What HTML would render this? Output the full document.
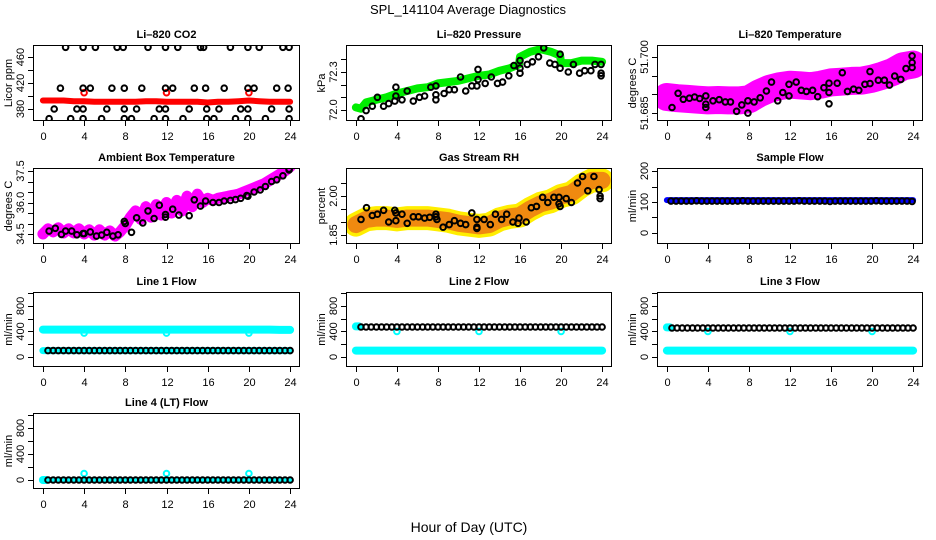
<!DOCTYPE html>
<html><head><meta charset="utf-8"><style>
html,body{margin:0;padding:0;background:#fff}
svg{display:block}
text{font-family:"Liberation Sans",sans-serif;fill:#000}
</style></head><body>
<svg id="c" width="936" height="540" viewBox="0 0 936 540">
<text x="468" y="14" text-anchor="middle" font-size="13">SPL_141104  Average Diagnostics</text>
<text x="469" y="532" text-anchor="middle" font-size="14">Hour of Day (UTC)</text>
</svg>
<script>
// ---------- data ----------
const xTicks = [0,4,8,12,16,20,24];

const co2BlackHours = [2.2,3.9,5.1,7.2,7.8,10.2,11.9,13.1,15.3,15.6,18.2,19.9,21.0,23.3,23.9,
  1.7,3.9,4.6,6.7,7.9,9.6,11.9,12.6,14.7,15.8,17.6,19.9,20.5,22.7,23.8,
  1.1,3.3,3.9,6.2,7.9,9.1,11.3,11.9,14.2,15.9,17.1,19.2,19.9,22.2,23.9,
  0.6,2.7,3.9,5.7,7.9,8.6,10.8,11.9,13.6,15.9,16.6,18.7,19.9,21.6,23.9];
const co2BlackValues = [475,475,475,475,475,475,475,475,475,475,475,475,475,475,475,
  412,412,412,412,412,412,412,412,412,412,412,412,412,412,412,
  380,380,380,380,380,380,380,380,380,380,380,380,380,380,380,
  365,365,365,365,365,365,365,365,365,365,365,365,365,365,365];
const co2RedHours = [0,1,2,3,4,5,6,7,8,9,10,11,12,13,14,15,16,17,18,19,20,21,22,23,24];
const co2RedValues = [393,393,393,392,392,391,391,391,391,391,392,392,391,391,391,391,390,391,391,392,393,392,391,391,391];
const co2RedSpikeHours = [4,12,20];
const co2RedSpikeValues = [405,405,405];

const presGreenHours = [0,0.5,1,2,3,4,5,6,7,8,9,10,11,12,13,14,15,15.9,16,17,18,19,19.9,20,21,22,23,24];
const presGreenValues = [72.02,72.01,72.06,72.08,72.10,72.13,72.15,72.17,72.18,72.21,72.22,72.23,72.25,72.27,72.28,72.31,72.33,72.36,72.42,72.46,72.48,72.46,72.43,72.37,72.37,72.39,72.39,72.38];
const presBlackHours = [0.5,1.0,1.6,2.1,2.7,3.2,3.8,3.9,3.9,4.5,5.0,5.6,6.2,6.7,7.3,7.8,7.8,7.8,8.6,9.1,9.6,10.2,10.7,11.3,11.8,11.9,11.9,12.6,13.2,13.8,14.3,14.9,15.4,16.0,16.0,16.0,16.7,17.2,17.8,18.3,18.9,19.4,19.9,19.9,20.7,21.2,21.8,22.3,22.9,23.3,23.9,23.9,23.9];
const presBlackValues = [71.93,71.995,72.03,72.10,72.03,72.05,72.07,72.18,72.11,72.08,72.15,72.07,72.10,72.11,72.18,72.12,72.08,72.19,72.13,72.16,72.16,72.26,72.15,72.19,72.19,72.24,72.32,72.21,72.26,72.21,72.22,72.27,72.35,72.39,72.33,72.29,72.36,72.38,72.42,72.49,72.37,72.36,72.44,72.33,72.30,72.36,72.29,72.31,72.31,72.36,72.36,72.29,72.27];

const ltMagHours = [0,1,2,3,4,5,6,7,8,9,10,11,12,13,14,15,16,17,18,19,20,21,22,23,24];
const ltMagValues = [51.6893,51.6890,51.6888,51.6886,51.6884,51.6885,51.6884,51.6884,51.6887,51.6903,51.6915,51.6922,51.6926,51.6924,51.6922,51.6926,51.6932,51.6934,51.6936,51.6937,51.6942,51.6950,51.6960,51.6975,51.6980];
const ltBlackHours = [0.5,1.1,1.6,2.2,2.7,3.2,3.8,3.8,3.8,4.5,5.1,5.7,6.2,6.8,7.3,7.9,7.9,8.5,9.1,9.7,10.2,10.8,11.3,11.9,11.9,12.6,13.1,13.6,14.2,14.7,15.3,15.8,15.8,15.8,16.6,17.1,17.6,18.2,18.7,19.3,19.8,19.8,20.6,21.2,21.7,22.2,22.8,23.3,23.9,23.9,23.9];
const ltBlackValues = [51.6865,51.6903,51.6887,51.689,51.6893,51.6889,51.6896,51.6874,51.6865,51.6883,51.6886,51.688,51.688,51.6855,51.6872,51.6883,51.685,51.688,51.6891,51.6909,51.6933,51.6883,51.6905,51.6927,51.6896,51.6933,51.6911,51.6908,51.6911,51.6894,51.6918,51.693,51.6905,51.6875,51.693,51.6958,51.6908,51.6914,51.6911,51.6927,51.6929,51.6961,51.6938,51.6938,51.6925,51.6949,51.694,51.6969,51.7003,51.6985,51.6972];

const ambMagValues = [34.5,34.75,34.6,34.8,34.55,34.75,34.55,34.75,34.5,34.7,34.45,34.7,34.45,34.65,34.4,34.6,34.9,35.3,35.6,35.2,35.8,35.3,35.9,35.4,36.0,35.5,36.1,35.6,36.3,35.8,36.4,36.0,36.2,36.1,36.2,36.25,36.3,36.35,36.4,36.5,36.6,36.7,36.8,36.9,37.05,37.2,37.35,37.5,37.7];
const ambBlackHours = [0.6,1.2,1.8,2.2,2.8,3.3,3.9,4.0,4.6,5.2,5.7,6.2,6.8,7.3,7.9,8.0,8.6,9.1,9.7,10.2,10.8,11.3,11.9,11.9,12.6,13.2,14.2,14.7,15.3,15.8,16.5,17.1,17.6,18.2,18.7,19.2,19.8,19.9,20.5,21.1,21.6,22.2,22.7,23.3,23.9,23.9];
const ambBlackValues = [34.64,34.77,34.48,34.64,34.64,34.46,34.52,34.52,34.6,34.4,34.45,34.58,34.4,34.46,35.1,35.0,34.58,35.27,35.03,35.6,35.24,35.87,35.43,35.3,35.68,35.4,35.37,36.13,35.83,36.07,36.0,36.0,36.07,36.1,36.14,36.2,36.33,36.3,36.5,36.6,36.76,37.0,37.08,37.27,37.6,37.55];

const rhCloudHours = [0,1,2,3,4,5,6,7,8,9,10,11,12,13,14,15,16,17,18,19,20,21,22,23,24];
const rhCloudValues = [1.89,1.91,1.915,1.915,1.91,1.915,1.915,1.915,1.91,1.905,1.895,1.89,1.885,1.89,1.91,1.92,1.925,1.95,1.97,1.98,2.0,2.01,2.04,2.06,2.06];
const rhBlackHours = [0.5,1.04,1.6,2.1,2.7,3.2,3.8,3.9,3.9,4.5,5.0,5.6,6.1,6.7,7.2,7.8,7.8,7.9,8.5,9.1,9.6,10.2,10.7,11.3,11.8,11.8,11.8,12.5,13.1,13.6,14.2,14.7,15.3,15.8,15.9,16.6,17.1,17.6,18.2,18.7,19.3,19.8,19.8,19.9,20.5,21.0,21.6,22.1,22.6,23.2,23.7,23.8,23.8];
const rhBlackValues = [1.91,1.955,1.925,1.93,1.945,1.90,1.945,1.935,1.905,1.93,1.895,1.92,1.92,1.915,1.918,1.93,1.92,1.91,1.88,1.89,1.905,1.895,1.89,1.935,1.91,1.88,1.875,1.91,1.89,1.93,1.91,1.93,1.90,1.895,1.915,1.90,1.955,1.96,1.995,1.975,1.995,1.995,1.97,1.96,1.99,1.975,2.05,2.075,2.02,2.075,2.025,2.0,1.99];

const sampleBlueValues = [106,106,106,106,106,106,106,106,106,106,106,106,106,106,106,106,106,106,106,106,106,106,106,106,106];
const sampleBlackValues = [103,103,103,103,103,104,103,103,103,103,103,103,103,103,104,103,103,103,103,103,103,103,103,103,103,104,103,103,103,103,103,102,103,103,103,103,103,103,103,103,104,103,103,103,103,103,103,102];

const line1CyanHiValues = [430,430,430,430,430,430,430,430,430,430,430,430,430,430,430,430,430,430,430,430,430,430,430,425,425];
const line1CyanLoValues = [100,100,100,100,100,100,100,100,100,100,100,100,100,100,100,100,100,100,100,100,100,100,100,100,100];
const line1BlackValues = [100,100,100,100,100,100,100,100,100,100,100,100,100,100,100,100,100,100,100,100,100,100,100,100,100,100,100,100,100,100,100,100,100,100,100,100,100,100,100,100,100,100,100,100,100,100,100,100];
const line1DipHours = [4,12,20];
const line1DipValues = [375,375,375];

const line2CyanLoValues = [100,100,100,100,100,100,100,100,100,100,100,100,100,100,100,100,100,100,100,100,100,100,100,100,100];
const line2StartValue = [480];
const line2BlackValues = [470,470,470,470,470,470,470,470,470,470,470,470,470,470,470,470,470,470,470,470,470,470,470,470,470,470,470,470,470,470,470,470,470,470,470,470,470,470,470,470,470,470,470,470,470,470,470,470];
const line2DipHours = [4,12,20];
const line2DipValues = [400,400,400];

const line3CyanLoValues = [100,100,100,100,100,100,100,100,100,100,100,100,100,100,100,100,100,100,100,100,100,100,100,100,100];
const line3StartValue = [465];
const line3BlackValues = [455,455,455,455,455,455,455,455,455,455,455,455,455,455,455,455,455,455,455,455,455,455,455,455,455,455,455,455,455,455,455,455,455,455,455,455,455,455,455,455,455,455,455,455,455,455,455,455];
const line3DipHours = [4,12,20];
const line3DipValues = [400,400,400];

const line4StartValue = [0];
const line4BlackValues = [0,0,0,0,0,0,0,0,0,0,0,0,0,0,0,0,0,0,0,0,0,0,0,0,0,0,0,0,0,0,0,0,0,0,0,0,0,0,0,0,0,0,0,0,0,0,0,0];
const line4SpikeHours = [4,12,20];
const line4SpikeValues = [100,100,100];

// ---------- drawing ----------
const NS = 'http://www.w3.org/2000/svg';
const svg = document.getElementById('c');
function mk(tag, attrs, parent){ const e=document.createElementNS(NS,tag); for(const k in attrs) e.setAttribute(k,attrs[k]); (parent||svg).appendChild(e); return e; }

const COLS = [{L:33,W:267},{L:346,W:266},{L:657,W:266}];
const ROWS = [{T:45,B:121},{T:168,B:244},{T:292,B:367},{T:413,B:489}];
const flowTicks = [0,200,400,600,800,1000];
const flowLabels = [0,400,800];

function makePanel(col,row,cfg){
  const c=COLS[col], r=ROWS[row];
  const p={L:c.L,R:c.L+c.W,T:r.T,B:r.B,ymin:cfg.ymin,ymax:cfg.ymax};
  p.x=h=>p.L+(h+0.96)/25.92*(p.R-p.L);
  p.y=v=>p.B-(v-p.ymin)/(p.ymax-p.ymin)*(p.B-p.T);
  const g=mk('g',{});
  
  
  p.g=g;
  const t=mk('text',{x:(p.L+p.R)/2,y:p.T-7,'text-anchor':'middle','font-size':11,'font-weight':'bold'},g);
  t.textContent=cfg.title;
  
  
  const yt=mk('text',{transform:`translate(${p.L-21},${(p.T+p.B)/2}) rotate(-90)`,'text-anchor':'middle','font-size':11},g);
  yt.textContent=cfg.ylab;
  
  
  const ax=mk('g',{stroke:'#000','stroke-width':1,fill:'none'},g);
  
  
  mk('rect',{x:p.L+0.5,y:p.T+0.5,width:p.R-p.L-1,height:p.B-p.T-1},ax);
  xTicks.forEach(h=>{
    const X=Math.round(p.x(h))+0.5;
    mk('line',{x1:X,x2:X,y1:p.B,y2:p.B+5},ax);
    const lb=mk('text',{x:X,y:p.B+19,'text-anchor':'middle','font-size':11},g);
    lb.textContent=h;
    
    
  });
  cfg.yticks.forEach(v=>{
    const Y=Math.round(p.y(v))+0.5;
    mk('line',{x1:p.L-5,x2:p.L,y1:Y,y2:Y},ax);
  });
  cfg.ylabels.forEach(v=>{
    const lb=mk('text',{transform:`translate(${p.L-9},${p.y(v)}) rotate(-90)`,'text-anchor':'middle','font-size':11},g);
    lb.textContent=cfg.fmt?cfg.fmt(v):v;
    
    
  });
  const cp=mk('clipPath',{id:'clip'+cfg.name},g);
  mk('rect',{x:p.L+1,y:p.T+1,width:p.R-p.L-2,height:p.B-p.T-2},cp);
  p.plot=mk('g',{'clip-path':`url(#clip${cfg.name})`},g);
  return p;
}
function band(p,xs,ys,color,w,name){
  const d=xs.map((h,i)=>(i?'L':'M')+p.x(h).toFixed(1)+' '+p.y(ys[i]).toFixed(1)).join(' ');
  const e=mk('path',{d:d,stroke:color,'stroke-width':w,fill:'none','stroke-linejoin':'round','stroke-linecap':'round'},p.plot);
  
  
}
function pts(p,xs,ys,color,name,r,sw){
  const g=mk('g',{stroke:color,'stroke-width':sw||2,fill:'none'},p.plot);
  
  
  xs.forEach((h,i)=>{
    const c=mk('circle',{cx:p.x(h).toFixed(1),cy:p.y(ys[i]).toFixed(1),r:r||2.8},g);
    
    
  });
}
const idx=(arr,step,off)=>arr.map((_,i)=>off+i*step);

// CO2
let p=makePanel(0,0,{name:'co2',title:'Li\u2013820 CO2',ylab:'Licor ppm',ymin:361.5,ymax:478.5,yticks:[380,400,420,440,460],ylabels:[380,420,460]});
band(p,co2RedHours,co2RedValues,'#ff0000',6,'co2-red-series');
pts(p,co2RedSpikeHours,co2RedSpikeValues,'#ff0000','co2-red-spikes');
pts(p,co2BlackHours,co2BlackValues,'#000','co2-black-series');

// Pressure
p=makePanel(1,0,{name:'pressure',title:'Li\u2013820 Pressure',ylab:'kPa',ymin:71.913,ymax:72.513,yticks:[72.0,72.1,72.2,72.3,72.4],ylabels:[72.0,72.3],fmt:v=>v.toFixed(1)});
band(p,presGreenHours,presGreenValues,'#00ee00',8,'pressure-green-series');
pts(p,presBlackHours,presBlackValues,'#000','pressure-black-series');

// Li-820 temp
p=makePanel(2,0,{name:'li820-temp',title:'Li\u2013820 Temperature',ylab:'degrees C',ymin:51.6829,ymax:51.7032,yticks:[51.685,51.690,51.695,51.700],ylabels:[51.685,51.700],fmt:v=>v.toFixed(3)});
band(p,ltMagHours,ltMagValues,'#ff00ff',28,'li820-temp-magenta-series');
pts(p,ltBlackHours,ltBlackValues,'#000','li820-temp-black-series');

// Ambient
p=makePanel(0,1,{name:'ambient',title:'Ambient Box Temperature',ylab:'degrees C',ymin:34.024,ymax:37.643,yticks:[34.5,35,35.5,36,36.5,37,37.5],ylabels:[34.5,36.0,37.5],fmt:v=>v.toFixed(1)});
band(p,idx(ambMagValues,0.5,0),ambMagValues,'#ff00ff',11,'ambient-magenta-series');
pts(p,ambBlackHours,ambBlackValues,'#000','ambient-black-series');

// RH
p=makePanel(1,1,{name:'rh',title:'Gas Stream RH',ylab:'percent',ymin:1.8154,ymax:2.1077,yticks:[1.85,1.90,1.95,2.00,2.05],ylabels:[1.85,2.00],fmt:v=>v.toFixed(2)});
band(p,rhCloudHours,rhCloudValues,'#ffee00',24,'rh-yellow-series');
band(p,rhCloudHours,rhCloudValues,'#f08a10',17,'rh-orange-series');
pts(p,rhBlackHours,rhBlackValues,'#000','rh-black-series');

// Sample flow
p=makePanel(2,1,{name:'sample-flow',title:'Sample Flow',ylab:'ml/min',ymin:-35.5,ymax:209.7,yticks:[0,50,100,150,200],ylabels:[0,100,200]});
band(p,idx(sampleBlueValues,1,0),sampleBlueValues,'#0000ff',6,'sample-flow-blue-series');
pts(p,idx(sampleBlackValues,0.5,0.4),sampleBlackValues,'#000','sample-flow-black-series');

// Line 1
p=makePanel(0,2,{name:'line1-flow',title:'Line 1 Flow',ylab:'ml/min',ymin:-156.9,ymax:1019.6,yticks:flowTicks,ylabels:flowLabels});
band(p,idx(line1CyanHiValues,1,0),line1CyanHiValues,'#00ffff',8,'line1-cyan-high-series');
band(p,idx(line1CyanLoValues,1,0),line1CyanLoValues,'#00ffff',7,'line1-cyan-low-series');
pts(p,line1DipHours,line1DipValues,'#00ffff','line1-cyan-dips');
pts(p,idx(line1BlackValues,0.5,0.5),line1BlackValues,'#000','line1-black-series');

// Line 2
p=makePanel(1,2,{name:'line2-flow',title:'Line 2 Flow',ylab:'ml/min',ymin:-156.9,ymax:1019.6,yticks:flowTicks,ylabels:flowLabels});
band(p,idx(line2CyanLoValues,1,0),line2CyanLoValues,'#00ffff',8,'line2-cyan-low-series');
band(p,[0,0.3],[line2StartValue[0],line2StartValue[0]],'#00ffff',8,'line2-cyan-start');
pts(p,line2DipHours,line2DipValues,'#00ffff','line2-cyan-dips');
pts(p,idx(line2BlackValues,0.5,0.5),line2BlackValues,'#000','line2-black-series');

// Line 3
p=makePanel(2,2,{name:'line3-flow',title:'Line 3 Flow',ylab:'ml/min',ymin:-156.9,ymax:1019.6,yticks:flowTicks,ylabels:flowLabels});
band(p,idx(line3CyanLoValues,1,0),line3CyanLoValues,'#00ffff',8,'line3-cyan-low-series');
band(p,[0,0.3],[line3StartValue[0],line3StartValue[0]],'#00ffff',8,'line3-cyan-start');
pts(p,line3DipHours,line3DipValues,'#00ffff','line3-cyan-dips');
pts(p,idx(line3BlackValues,0.5,0.5),line3BlackValues,'#000','line3-black-series');

// Line 4
p=makePanel(0,3,{name:'line4-flow',title:'Line 4 (LT) Flow',ylab:'ml/min',ymin:-138.5,ymax:1030.8,yticks:flowTicks,ylabels:flowLabels});
band(p,[0,0.3],[line4StartValue[0],line4StartValue[0]],'#00ffff',8,'line4-cyan-start');
band(p,[0.3,24],[line4StartValue[0],line4StartValue[0]],'#00ffff',4,'line4-cyan-series');
pts(p,line4SpikeHours,line4SpikeValues,'#00ffff','line4-cyan-spikes');
pts(p,idx(line4BlackValues,0.5,0.5),line4BlackValues,'#000','line4-black-series');
</script>
</body></html>
